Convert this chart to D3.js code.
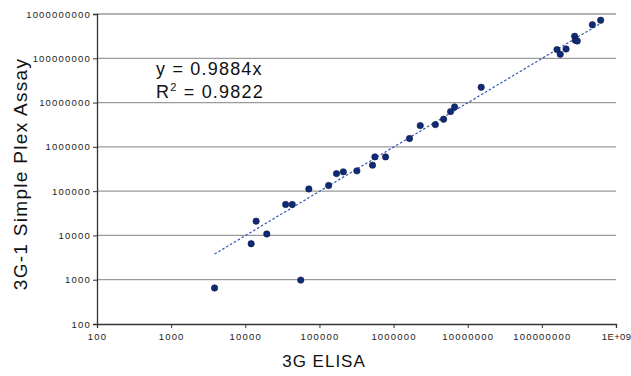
<!DOCTYPE html>
<html>
<head>
<meta charset="utf-8">
<script src="https://cdn.jsdelivr.net/npm/d3@7"></script>
<style>
  body { margin: 0; background: #fff; }
  text { font-family: "Liberation Sans", Arial, sans-serif; }
</style>
</head>
<body>
<svg id="chart"></svg>
<script>
// values (3G ELISA vs 3G-1 Simple Plex)
const elisa = [3850, 12000, 14000, 19500, 35000, 43000, 56000, 72000,
    133000, 170000, 210000, 320000, 520000, 560000, 780000,
    1640000, 2290000, 3660000, 4730000, 5870000, 6650000, 15200000,
    160000000, 177000000, 212000000, 277000000, 283000000, 300000000, 480000000, 621000000]
const simplePlex = [650, 6500, 21000, 10800, 50000, 50000, 980, 112000,
    134000, 249000, 273000, 287000, 386000, 594000, 594000,
    1540000, 3020000, 3180000, 4210000, 6250000, 7980000, 22200000,
    157000000, 123000000, 162000000, 314000000, 255000000, 246000000, 573000000, 721000000]
const tickValues = [1e2, 1e3, 1e4, 1e5, 1e6, 1e7, 1e8, 1e9]
const tickLabels = ['100', '1000', '10000', '100000', '1000000', '10000000', '100000000', '1E+09']
const yTickLabels = ['100', '1000', '10000', '100000', '1000000', '10000000', '100000000', '1000000000']
const slope = 0.9884

const W = 631, H = 376
const margin = { top: 14, right: 15, bottom: 52, left: 97 }

const svg = d3.select('#chart').attr('width', W).attr('height', H)

const x = d3.scaleLog().domain([1e2, 1e9]).range([margin.left, W - margin.right])
const y = d3.scaleLog().domain([1e2, 1e9]).range([H - margin.bottom, margin.top])

// horizontal gridlines
svg.append('g')
  .selectAll('line')
  .data(tickValues.slice(1))
  .enter().append('line')
  .attr('x1', x(1e2)).attr('x2', x(1e9))
  .attr('y1', d => y(d)).attr('y2', d => y(d))
  .attr('stroke', '#9a9a9a')
  .attr('stroke-width', 1.3)

// axes
const xAxis = d3.axisBottom(x).tickValues(tickValues)
  .tickFormat((d, i) => tickLabels[i]).tickSizeOuter(0).tickSize(4)
const yAxis = d3.axisLeft(y).tickValues(tickValues)
  .tickFormat((d, i) => yTickLabels[i]).tickSizeOuter(0).tickSize(4)

const gx = svg.append('g')
  .attr('transform', `translate(0, ${y(1e2)})`)
  .call(xAxis)
gx.select('.domain').attr('stroke', '#333').attr('stroke-width', 1.3)
gx.selectAll('.tick line').attr('stroke', '#333')
gx.selectAll('.tick text').attr('font-size', 9.5).attr('fill', '#222')
  .attr('letter-spacing', 1.2).attr('dy', '0.95em')
// last label sits right at the edge, keep it inside
gx.selectAll('.tick text').filter(d => d === 1e9)
  .attr('letter-spacing', 0.4).attr('text-anchor', 'end').attr('x', 15)

const gy = svg.append('g')
  .attr('transform', `translate(${x(1e2)}, 0)`)
  .call(yAxis)
gy.select('.domain').attr('stroke', '#333').attr('stroke-width', 1.3)
gy.selectAll('.tick line').attr('stroke', '#333')
gy.selectAll('.tick text').attr('font-size', 9.5).attr('fill', '#222')
  .attr('letter-spacing', 1.2).attr('x', -6)

// trendline y = 0.9884x across the data range
const xMin = d3.min(elisa), xMax = d3.max(elisa)
svg.append('line')
  .attr('x1', x(xMin)).attr('y1', y(slope * xMin))
  .attr('x2', x(xMax)).attr('y2', y(slope * xMax))
  .attr('stroke', '#2f55b8')
  .attr('stroke-width', 1.2)
  .attr('stroke-dasharray', '2.5,2')

// points
svg.append('g')
  .selectAll('circle')
  .data(elisa)
  .enter().append('circle')
  .attr('cx', d => x(d))
  .attr('cy', (d, i) => y(simplePlex[i]))
  .attr('r', 3.2)
  .attr('fill', '#0c2b78')
  .attr('stroke', '#1a1a3a')
  .attr('stroke-width', 0.6)

// equation
svg.append('text')
  .attr('x', 156).attr('y', 75)
  .attr('font-size', 18).attr('fill', '#111').attr('letter-spacing', 1.2)
  .text('y = 0.9884x')
svg.append('text')
  .attr('x', 156).attr('y', 98)
  .attr('font-size', 18).attr('fill', '#111').attr('letter-spacing', 1.2)
  .html('R<tspan font-size="11" dy="-7">2</tspan><tspan dy="7"> = 0.9822</tspan>')

// axis titles
svg.append('text')
  .attr('x', 324).attr('y', 367)
  .attr('text-anchor', 'middle')
  .attr('font-size', 17).attr('fill', '#111').attr('letter-spacing', 1)
  .text('3G ELISA')
svg.append('text')
  .attr('transform', `translate(27, 174) rotate(-90)`)
  .attr('text-anchor', 'middle')
  .attr('font-size', 19).attr('fill', '#111').attr('letter-spacing', 1.3)
  .text('3G-1 Simple Plex Assay')
</script>
</body>
</html>
